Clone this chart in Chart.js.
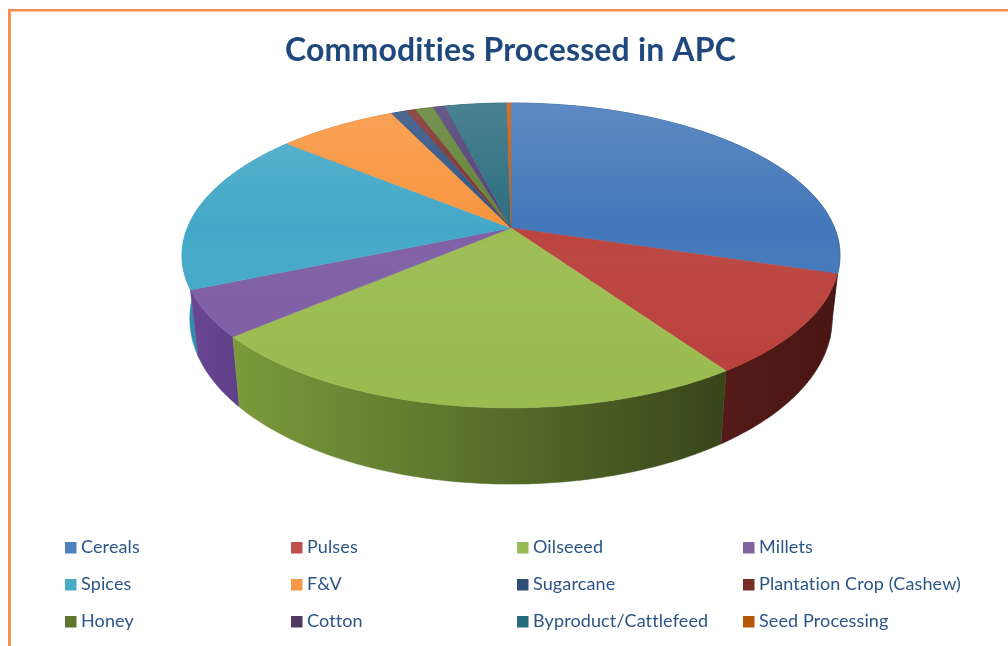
<!DOCTYPE html>
<html><head><meta charset="utf-8">
<style>html,body{margin:0;padding:0;background:#fff;overflow:hidden}canvas{display:block}</style>
<script src="https://cdn.jsdelivr.net/npm/chart.js@4"></script>
</head><body><canvas id="c" width="1008" height="646"></canvas>
<script>
const categories = ['Cereals','Pulses','Oilseeed','Millets','Spices','F&V','Sugarcane','Plantation Crop (Cashew)','Honey','Cotton','Byproduct/Cattlefeed','Seed Processing'];
const shares = [29.75,10.67,23.28,4.9,17.36,6.97,0.89,0.56,1.06,0.69,3.6,0.25];
const legendColors = ['#4F81BD','#C0504D','#9BBB59','#8064A2','#4BACC6','#F79646','#2C4D75','#772C2A','#5F7530','#4D3B62','#276A7C','#B65708'];
const topColors = ['#3E74B8','#B93F3A','#9ABB4F','#7C5BA3','#3FA6C6','#F79239','#2C4F7F','#7A2C2A','#5F7F30','#4D3B72','#276A7C','#C05A10'];
const wallLeft = ['#2a4a78','#551b18','#7b9b3c','#6a4693','#2f90ad','#b06a30','#20385a','#501c1a','#44581f','#352850','#1b4c59','#7a3a05'];
const wallRight = ['#20395f','#481614','#37461a','#5f3f88','#2f90ad','#b06a30','#20385a','#501c1a','#44581f','#352850','#1b4c59','#7a3a05'];

const topDisc = {cx:511, cy:228, a:323.6, b:147.5, k:0.18};
const baseDisc = {cx:511, cy:289, a:316, b:160, k:0.18};
function project(d, th){
  const u = Math.sin(th), v = -Math.cos(th), w = 1 - d.k*v;
  return [d.cx + d.a*u/w, d.cy + d.b*v/w];
}
function rim(d, s, e){
  const n = Math.max(2, Math.ceil((e-s)/0.01)), pts = [];
  for(let i=0;i<=n;i++) pts.push(project(d, s+(e-s)*i/n));
  return pts;
}
const pie3d = {
  id:'pie3d',
  beforeDraw(chart){
    const g = chart.ctx;
    g.save();
    g.fillStyle='#fff'; g.fillRect(0,0,1008,646);
    g.fillStyle='#F98A50';
    g.fillRect(8,9,1000,2.5); g.fillRect(8,9,2.8,637);
    g.restore();
    g.letterSpacing='0.17px';
  },
  beforeDatasetsDraw(chart){
    const g = chart.ctx, arcs = chart.getDatasetMeta(0).data;
    const slices = arcs.map((el,i)=>({i, s:el.startAngle+Math.PI/2, e:el.endAngle+Math.PI/2}));
    g.save();
    // side wall, back to front
    [...slices].sort((p,q)=>(-Math.cos((p.s+p.e)/2))-(-Math.cos((q.s+q.e)/2))).forEach(sl=>{
      const t = rim(topDisc, sl.s, sl.e), b = rim(baseDisc, sl.s, sl.e);
      const xs = t.concat(b).map(p=>p[0]);
      const x0 = Math.min(...xs), x1 = Math.max(...xs);
      const gr = g.createLinearGradient(x0,0,x1,0);
      gr.addColorStop(0,wallLeft[sl.i]); gr.addColorStop(1,wallRight[sl.i]);
      g.beginPath();
      t.forEach((p,k)=>k?g.lineTo(p[0],p[1]):g.moveTo(p[0],p[1]));
      b.reverse().forEach(p=>g.lineTo(p[0],p[1]));
      g.closePath();
      g.fillStyle=gr; g.strokeStyle=gr; g.lineWidth=0.5; g.fill(); g.stroke();
    });
    // top face
    slices.forEach(sl=>{
      const t = rim(topDisc, sl.s, sl.e);
      g.beginPath(); g.moveTo(topDisc.cx, topDisc.cy);
      t.forEach(p=>g.lineTo(p[0],p[1]));
      g.closePath();
      g.fillStyle=topColors[sl.i]; g.strokeStyle=topColors[sl.i]; g.lineWidth=0.5; g.fill(); g.stroke();
    });
    // soft sheen on the top face
    const whole = rim(topDisc, 0, Math.PI*2);
    g.beginPath(); whole.forEach((p,k)=>k?g.lineTo(p[0],p[1]):g.moveTo(p[0],p[1])); g.closePath();
    const sh = g.createLinearGradient(0,103,0,408);
    sh.addColorStop(0,'rgba(255,255,255,0.16)');
    sh.addColorStop(0.42,'rgba(255,255,255,0.02)');
    sh.addColorStop(0.5,'rgba(255,255,255,0.05)');
    sh.addColorStop(1,'rgba(255,255,255,0)');
    g.fillStyle=sh; g.fill();
    g.restore();
    return false;
  },
  afterDraw(chart){
    const g = chart.ctx, labels = chart.data.labels, cols = chart.data.datasets[0].backgroundColor;
    const colX = [65,291,517,743], rowY = [547.5,584.5,621.5];
    g.save();
    g.font = '18px Lato'; g.textBaseline='middle'; g.textAlign='left';
    g.letterSpacing='0.12px';
    labels.forEach((t,i)=>{
      const x = colX[i%4], y = rowY[Math.floor(i/4)];
      g.fillStyle = cols[i]; g.fillRect(x,y-5.5,11.5,11.5);
      g.fillStyle = '#2B5587'; g.fillText(t,x+16,y);
    });
    g.restore();
  }
};
new Chart(document.getElementById('c'),{
  type:'pie',
  data:{labels:categories,datasets:[{data:shares,backgroundColor:legendColors,borderWidth:0}]},
  options:{
    responsive:false,animation:false,events:[],
    layout:{padding:{left:13}},
    plugins:{
      legend:{display:false},tooltip:{enabled:false},
      title:{display:true,text:'Commodities Processed in APC',color:'#1F497D',
        font:{family:'Lato',size:32,weight:'bold'},padding:{top:31,bottom:10}}
    }
  },
  plugins:[pie3d]
});
</script></body></html>
